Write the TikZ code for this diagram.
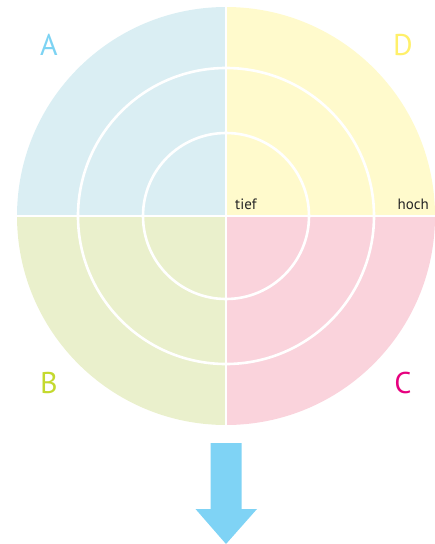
\documentclass[tikz,border=0pt]{standalone}
\usepackage{fontspec}
\setmainfont{PT Sans}
\definecolor{qA}{HTML}{DAEEF3}
\definecolor{qD}{HTML}{FFFACC}
\definecolor{qB}{HTML}{EAF0CC}
\definecolor{qC}{HTML}{FAD3DC}
\definecolor{lA}{HTML}{7DD3F3}
\definecolor{lD}{HTML}{FFF06A}
\definecolor{lB}{HTML}{C4D92E}
\definecolor{lC}{HTML}{E6007E}
\definecolor{arrowc}{HTML}{7FD3F5}
\begin{document}
\begin{tikzpicture}[x=1pt,y=-1pt,
  ring/.style={draw=white,line width=2.6pt},
  biglabel/.style={font=\fontsize{30}{30}\selectfont,inner sep=0pt},
  smalllabel/.style={font=\fontsize{15}{15}\selectfont,inner sep=0pt,text=black!85}]
\useasboundingbox (0,0) rectangle (435,544);
\coordinate (c) at (226,216);
% quadrants (y axis points down: angle 90 = down, 270 = up)
\fill[qA] (c) -- ++(-209,0) arc[start angle=180,end angle=270,radius=209] -- cycle;
\fill[qD] (c) -- ++(0,-209) arc[start angle=270,end angle=360,radius=209] -- cycle;
\fill[qC] (c) -- ++(209,0) arc[start angle=0,end angle=90,radius=209] -- cycle;
\fill[qB] (c) -- ++(0,209) arc[start angle=90,end angle=180,radius=209] -- cycle;
% rings and axes
\draw[ring] (c) circle[radius=148];
\draw[ring] (c) circle[radius=83];
\draw[ring] ([xshift=-210]c) -- ([xshift=210]c);
\draw[ring] ([yshift=-210]c) -- ([yshift=210]c);
% labels
\node[biglabel,text=lA] (A) at (49,45) {A};
\node[biglabel,text=lD] (D) at (403,45) {D};
\node[biglabel,text=lB] (B) at (49,383) {B};
\node[biglabel,text=lC] (C) at (403,383) {C};
\node[smalllabel,anchor=base west] (tief) at (235,209) {tief};
\node[smalllabel,anchor=base east] (hoch) at (429,209) {hoch};
% arrow
\fill[arrowc] (210.5,443) -- (241.5,443) -- (241.5,509) -- (257,509) -- (226,544) -- (195.5,509) -- (210.5,509) -- cycle;
\end{tikzpicture}
\end{document}
